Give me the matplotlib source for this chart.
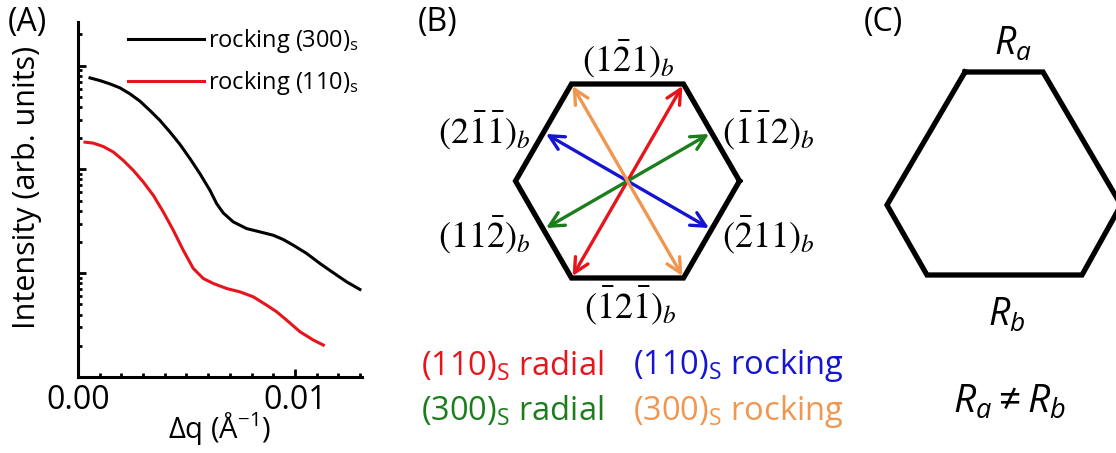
import numpy as np
import matplotlib
matplotlib.use("Agg")
import matplotlib.pyplot as plt
from matplotlib.patches import FancyArrowPatch
from matplotlib.ticker import MultipleLocator, FixedLocator, NullFormatter, LogLocator

plt.rcParams['font.family'] = ['Open Sans', 'DejaVu Sans']
plt.rcParams['mathtext.fontset'] = 'custom'
plt.rcParams['mathtext.rm'] = 'Open Sans'
plt.rcParams['mathtext.it'] = 'Open Sans:italic'

# Panel A: rocking curves
dq_300 = [0.000553, 0.001014, 0.001475, 0.001935, 0.002396, 0.002857, 0.003318,
          0.003779, 0.00424, 0.0047, 0.005161, 0.005622, 0.006083, 0.00639,
          0.006697, 0.007158, 0.007773, 0.008387, 0.009002, 0.009462, 0.009923,
          0.010538, 0.011152, 0.011766, 0.012381, 0.012995]
int_300 = [76.1, 71.7, 66.6, 61.0, 53.4, 45.4, 36.9, 29.6, 22.9, 17.4, 12.7,
           9.08, 6.28, 4.68, 3.80, 3.12, 2.69, 2.50, 2.32, 2.11, 1.86, 1.55,
           1.24, 1.01, 0.826, 0.697]
dq_110 = [0.000323, 0.000707, 0.001167, 0.001628, 0.002089, 0.00255, 0.003011,
          0.003472, 0.003932, 0.004393, 0.004854, 0.005315, 0.005776, 0.006237,
          0.006851, 0.007465, 0.00808, 0.008694, 0.009155, 0.009616, 0.01023,
          0.010845, 0.011306]
int_110 = [18.3, 17.9, 16.6, 14.7, 12.2, 9.78, 7.55, 5.62, 3.89, 2.59, 1.66,
           1.11, 0.889, 0.796, 0.712, 0.661, 0.592, 0.492, 0.425, 0.353, 0.273,
           0.227, 0.203]
curve_labels = [r'rocking (300)$_\mathregular{s}$', r'rocking (110)$_\mathregular{s}$']
curve_colors = ['black', '#e8141b']

# Panel B: directions and labels
facet_labels = [r'$(1\bar{2}1)_b$', r'$(2\bar{1}\bar{1})_b$', r'$(\bar{1}\bar{1}2)_b$',
                r'$(11\bar{2})_b$', r'$(\bar{2}11)_b$', r'$(\bar{1}2\bar{1})_b$']
arrow_names = [r'(110)$_\mathregular{S}$ radial', r'(110)$_\mathregular{S}$ rocking',
               r'(300)$_\mathregular{S}$ radial', r'(300)$_\mathregular{S}$ rocking']
arrow_colors = ['#e8141b', '#1414d2', '#1b7d1b', '#f0964f']

fig = plt.figure(figsize=(11.16, 4.53), dpi=100)

# ---- panel A
ax = fig.add_axes([78/1116, 76/453, 284/1116, 355/453])
for x, y, c, lab in zip([dq_300, dq_110], [int_300, int_110], curve_colors, curve_labels):
    ax.plot(x, y, color=c, lw=2.2, label=lab)
ax.set_yscale('log')
ax.set_xlim(0, 0.01309)
ax.set_ylim(0.1, 263)
ax.xaxis.set_major_locator(FixedLocator([0.0, 0.01]))
ax.xaxis.set_minor_locator(MultipleLocator(0.001))
ax.set_xticklabels(['0.00', '0.01'])
ax.yaxis.set_major_locator(LogLocator(base=10))
ax.yaxis.set_minor_locator(LogLocator(base=10, subs=np.arange(2, 10)))
ax.yaxis.set_major_formatter(NullFormatter())
ax.yaxis.set_minor_formatter(NullFormatter())
ax.tick_params(which='both', direction='in', width=2, labelsize=23, pad=5)
ax.tick_params(which='major', length=6)
ax.tick_params(which='minor', length=3)
for s in ['top', 'right']:
    ax.spines[s].set_visible(False)
for s in ['left', 'bottom']:
    ax.spines[s].set_linewidth(2.2)
ax.set_xlabel(r'Δq (Å$^\mathregular{-1}$)', fontsize=21, labelpad=-5)
ax.set_ylabel('Intensity (arb. units)', fontsize=22)
ax.yaxis.set_label_coords(-0.128, 0.535)
ax.legend(loc='upper right', bbox_to_anchor=(1.065, 1.045), frameon=False,
          fontsize=17, handlelength=3.2, handletextpad=0.2, labelspacing=0.6)

# ---- overlay for panels B and C, in pixel units
ov = fig.add_axes([0, 0, 1, 1])
ov.set_xlim(0, 1116)
ov.set_ylim(453, 0)
ov.axis('off')
ov.patch.set_alpha(0)

for x, t in zip([8, 418, 864], ['(A)', '(B)', '(C)']):
    fig.text(x/1116, 1 - 22/453, t, fontsize=23, va='center')

cx, cy, R = 627.5, 181, 112
ang = np.deg2rad(np.arange(0, 420, 60))
ov.plot(cx + R*np.cos(ang), cy - R*np.sin(ang), color='black', lw=3.8,
        solid_joinstyle='miter')

dirs = [(240, 60, R*0.98), (150, 330, R*0.84), (210, 30, R*0.84), (120, 300, R*0.98)]
for (a1, a2, r), c in zip(dirs, arrow_colors):
    p1 = (cx + r*np.cos(np.deg2rad(a1)), cy - r*np.sin(np.deg2rad(a1)))
    p2 = (cx + r*np.cos(np.deg2rad(a2)), cy - r*np.sin(np.deg2rad(a2)))
    ov.add_patch(FancyArrowPatch(p1, p2, arrowstyle='<->', color=c, lw=2.4,
                                 mutation_scale=26, shrinkA=0, shrinkB=0))

lab_pos = [(628, 60), (484, 131), (768, 131), (484, 236), (768, 236), (630, 306)]
for (x, y), t in zip(lab_pos, facet_labels):
    ov.text(x, y, t, fontsize=26, ha='center', va='center', math_fontfamily='stix',
            zorder=5)

for i, (t, c) in enumerate(zip(arrow_names, arrow_colors)):
    ov.text(421 + 212*(i % 2), 366 + 45*(i // 2), t, color=c, fontsize=23.5,
            ha='left', va='center')

# ---- panel C
px = [965, 1043, 1121, 1082, 927, 887, 965]
py = [72, 72, 205, 275, 275, 205, 72]
ov.plot(px, py, color='black', lw=3.8, solid_joinstyle='miter')
ov.text(1013, 45, r'$R_a$', fontsize=27, ha='center', va='center')
ov.text(1007, 316, r'$R_b$', fontsize=27, ha='center', va='center')
ov.text(1010, 403, r'$R_a \neq R_b$', fontsize=28, ha='center', va='center')

fig.savefig('out.png', dpi=100)
